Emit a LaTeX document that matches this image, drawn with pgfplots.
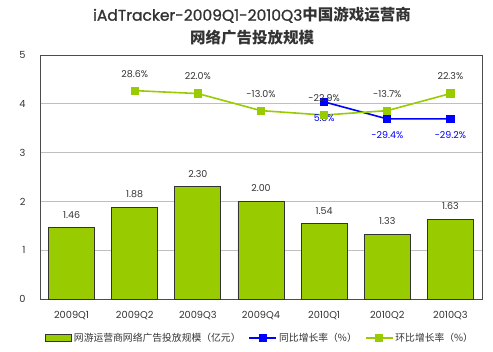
\documentclass[border=0pt]{standalone}
\usepackage{pgfplots}
\pgfplotsset{compat=1.18}
\usepackage{fontspec}
\setmainfont{Poppins}
\newfontfamily\cjk{Noto Sans CJK SC}
\newfontfamily\titlefont{Poppins}[FakeBold=1.2]
\definecolor{barg}{HTML}{99CC00}
\definecolor{lblue}{HTML}{0000FF}
\definecolor{txt}{HTML}{333333}
\pgfplotsset{
  barlegend/.style={legend image code/.code={\draw[##1] (0pt,-3.5pt) rectangle (26pt,3.5pt);}},
  linelegend/.style={legend image code/.code={\draw[mark repeat=2, mark phase=2, ##1] plot coordinates {(0pt,0pt)(13.5pt,0pt)(27pt,0pt)};}},
}
\begin{document}
\begin{tikzpicture}[x=1pt,y=1pt]
\useasboundingbox (-40,-52) rectangle (453,299);
\begin{axis}[at={(0,0)}, anchor=south west, scale only axis,
  width=442pt, height=244pt,
  xmin=-0.5, xmax=6.5, ymin=0, ymax=5,
  xtick={0,...,6},
  xticklabels={2009Q1,2009Q2,2009Q3,2009Q4,2010Q1,2010Q2,2010Q3},
  ytick={0,...,5},
  /pgf/number format/assume math mode=true,
  ymajorgrids, grid style={draw=black!25, line width=0.7pt},
  major tick length=0pt,
  axis line style={draw=black!70, line width=0.9pt},
  tick label style={font=\fontsize{9.8}{11}\selectfont, text=txt},
  xticklabel style={yshift=-9pt},
  yticklabel style={xshift=-11pt},
  legend columns=3,
  legend style={at={(0.498,-0.16)}, anchor=center, draw=none, fill=none,
    font=\cjk\fontsize{9.8}{11}\selectfont, text=txt,
    /tikz/every even column/.append style={column sep=6pt}},
]
\addplot[ybar, bar width=46pt, fill=barg, draw=black!80, line width=0.8pt,
  nodes near coords, nodes near coords style={anchor=center, yshift=13pt,
  font=\fontsize{9.5}{11}\selectfont, text=txt,
  /pgf/number format/.cd, fixed, precision=2, fixed zerofill},
  barlegend]
  coordinates {(0,1.46) (1,1.88) (2,2.30) (3,2.00) (4,1.54) (5,1.33) (6,1.63)};
\addlegendentry{网游运营商网络广告投放规模（亿元）}
\addplot[lblue, line width=1.6pt, mark=square*, mark size=3.3pt,
  nodes near coords={\pgfplotspointmeta\%}, point meta=explicit symbolic,
  nodes near coords style={anchor=center, yshift=-16pt, text=lblue,
  font=\fontsize{9.5}{11}\selectfont},
  linelegend]
  table[meta=lab] {
x y lab
4 4.04 5.3
5 3.69 -29.4
6 3.69 -29.2
};
\addlegendentry{同比增长率（\%）}
\addplot[barg, line width=1.6pt, mark=square*, mark size=3.3pt,
  nodes near coords={\pgfplotspointmeta\%}, point meta=explicit symbolic,
  nodes near coords style={anchor=center, yshift=17pt, text=txt,
  font=\fontsize{9.5}{11}\selectfont},
  linelegend]
  table[meta=lab] {
x y lab
1 4.27 28.6
2 4.21 22.0
3 3.86 -13.0
4 3.77 -22.9
5 3.86 -13.7
6 4.21 22.3
};
\addlegendentry{环比增长率（\%）}
\end{axis}
\node[font=\titlefont\fontsize{15.5}{17}\selectfont, text=txt] at (212,284)
  {iAdTracker-2009Q1-2010Q3{\cjk\bfseries 中国游戏运营商}};
\node[font=\cjk\fontsize{15.5}{17}\selectfont\bfseries, text=txt] at (212,261)
  {网络广告投放规模};
\end{tikzpicture}
\end{document}
